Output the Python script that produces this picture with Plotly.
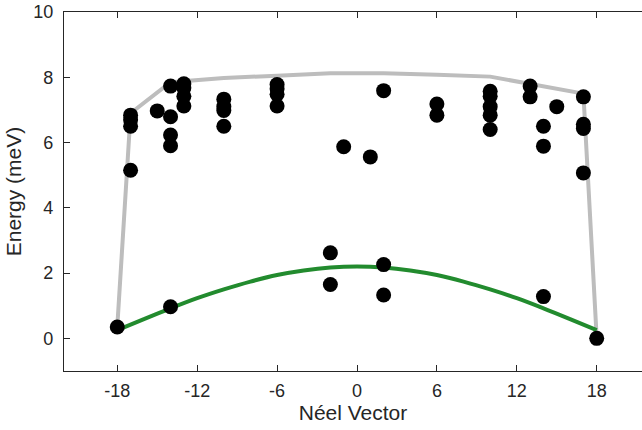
import plotly.graph_objects as go

# Measured excitation energies (meV) grouped by Néel-vector position
point_x = [
    -18,
    -17, -17, -17, -17,
    -15,
    -14, -14, -14, -14, -14,
    -13, -13, -13, -13,
    -10, -10, -10, -10,
    -6, -6, -6, -6,
    -2, -2,
    -1,
    1,
    2, 2, 2,
    6, 6,
    10, 10, 10, 10, 10,
    13, 13,
    14, 14, 14,
    15,
    17, 17, 17, 17,
    18,
]
point_e = [
    0.35,
    6.84, 6.7, 6.5, 5.15,
    6.97,
    7.73, 6.79, 6.23, 5.9, 0.97,
    7.8, 7.68, 7.42, 7.12,
    7.33, 7.1, 6.98, 6.5,
    7.78, 7.65, 7.48, 7.12,
    2.62, 1.65,
    5.87,
    5.56,
    7.59, 2.26, 1.33,
    7.18, 6.84,
    7.57, 7.42, 7.1, 6.84, 6.4,
    7.73, 7.4,
    6.5, 5.89, 1.28,
    7.1,
    7.4, 6.56, 6.43, 5.07,
    0.0,
]

# Upper boundary of the spectrum (grey envelope)
upper_x = [-18, -17, -14, -10, -6, -2, 0, 2, 6, 10, 17, 18]
upper_e = [0.35, 6.9, 7.85, 7.98, 8.05, 8.12, 8.12, 8.12, 8.08, 8.02, 7.5, 0.0]

# Lower magnon branch (green curve)
lower_x = [-18, -16, -14, -12, -10, -8, -6, -4, -2, 0,
           2, 4, 6, 8, 10, 12, 14, 16, 18]
lower_e = [0.25, 0.59, 0.92, 1.23, 1.50, 1.74, 1.94, 2.08, 2.17, 2.20,
           2.17, 2.08, 1.94, 1.74, 1.50, 1.23, 0.92, 0.59, 0.25]

x_ticks = [-18, -12, -6, 0, 6, 12, 18]
y_ticks = [0, 2, 4, 6, 8, 10]

ink = "#262626"
font_family = "Liberation Sans, Arial, sans-serif"

fig = go.Figure()
fig.add_trace(go.Scatter(
    x=upper_x, y=upper_e, mode="lines",
    line=dict(color="#bdbdbd", width=4),
    hoverinfo="skip",
))
fig.add_trace(go.Scatter(
    x=lower_x, y=lower_e, mode="lines",
    line=dict(color="#228b2e", width=4, shape="spline"),
    hoverinfo="skip",
))
fig.add_trace(go.Scatter(
    x=point_x, y=point_e, mode="markers",
    marker=dict(color="black", size=15, line=dict(width=0)),
))

fig.update_layout(
    width=642, height=430,
    margin=dict(l=64, r=0, t=12, b=59),
    paper_bgcolor="white", plot_bgcolor="white",
    showlegend=False,
    font=dict(family=font_family, color=ink, size=18),
)
fig.update_xaxes(
    range=[-22, 21.4],
    tickvals=x_ticks, ticktext=[str(v) for v in x_ticks],
    ticks="inside", ticklen=6, tickcolor=ink, tickwidth=1,
    showline=True, linecolor=ink, linewidth=1.3, mirror="ticks",
    showgrid=False, zeroline=False,
    tickfont=dict(size=18, color=ink),
    ticklabelstandoff=3,
    title=dict(text="Néel Vector", font=dict(size=21, color=ink), standoff=5),
)
fig.update_yaxes(
    range=[-1, 10],
    tickvals=y_ticks, ticktext=[str(v) for v in y_ticks],
    ticks="inside", ticklen=6, tickcolor=ink, tickwidth=1,
    showline=True, linecolor=ink, linewidth=1.3,
    showgrid=False, zeroline=False,
    tickfont=dict(size=18, color=ink),
    ticklabelstandoff=6,
    title=dict(text="Energy (meV)", font=dict(size=21, color=ink), standoff=5),
)

fig.write_html("out.html")
